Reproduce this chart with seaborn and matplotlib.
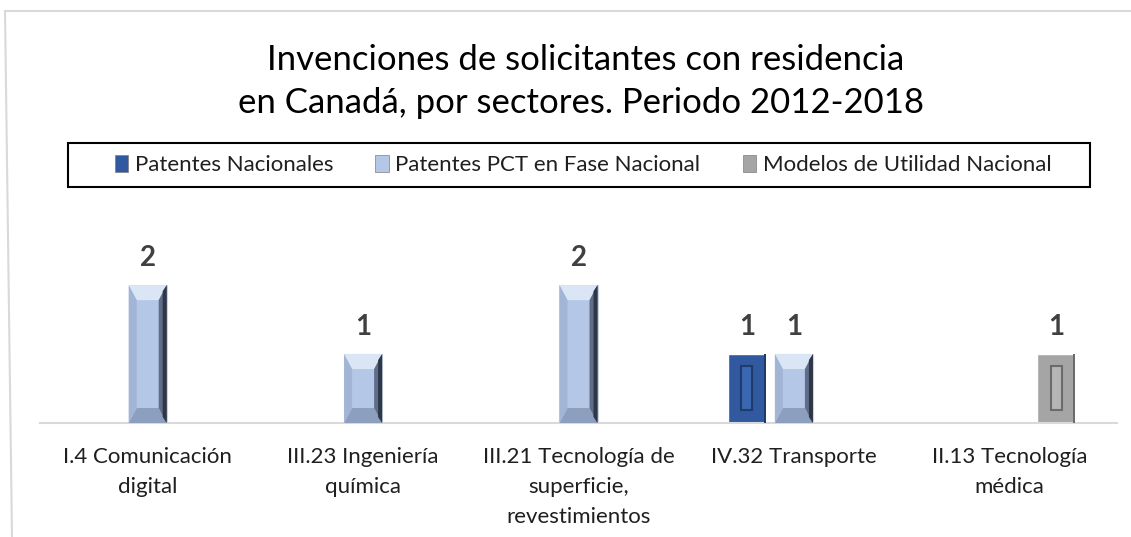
"""Inventions by Canadian-resident applicants, by sector (2012-2018)."""

import matplotlib
matplotlib.use('Agg')
import matplotlib.pyplot as plt
from matplotlib.patches import Patch, Polygon, Rectangle
from matplotlib.lines import Line2D
import pandas as pd
import seaborn as sns

# data
sectores = [
    "I.4 Comunicación\ndigital",
    "III.23 Ingeniería\nquímica",
    "III.21 Tecnología de\nsuperficie,\nrevestimientos",
    "IV.32 Transporte",
    "II.13 Tecnología\nmédica",
]
tipos = [
    "Patentes Nacionales",
    "Patentes PCT en Fase Nacional",
    "Modelos de Utilidad Nacional",
]
nacionales = [0, 0, 0, 1, 0]
pct = [2, 1, 2, 1, 0]
utilidad = [0, 0, 0, 0, 1]

colores = {
    "Patentes Nacionales": "#30599f",
    "Patentes PCT en Fase Nacional": "#b4c7e7",
    "Modelos de Utilidad Nacional": "#a5a5a5",
}

df = pd.DataFrame({
    "sector": sectores * 3,
    "tipo": [tipos[0]] * 5 + [tipos[1]] * 5 + [tipos[2]] * 5,
    "valor": nacionales + pct + utilidad,
})

sns.set_theme(style="white")
plt.rcParams['font.family'] = ['Lato', 'DejaVu Sans']

W, H = 1131, 537
fig = plt.figure(figsize=(W / 100, H / 100), dpi=100)
ax = fig.add_axes([40 / W, 114 / H, 1077 / W, 193 / H])

sns.barplot(
    data=df, x="sector", y="valor", hue="tipo",
    order=sectores, hue_order=tipos, palette=colores,
    width=0.654, gap=0.19, saturation=1, legend=False, ax=ax,
)
ax.set_ylim(0, 2.8)
ax.set_xlim(-0.5, len(sectores) - 0.5)
ax.set_xlabel("")
ax.set_ylabel("")
ax.set_yticks([])
for s in ["top", "left", "right"]:
    ax.spines[s].set_visible(False)
ax.spines["bottom"].set_color("#d9d9d9")
ax.spines["bottom"].set_linewidth(1.5)
ax.tick_params(axis="x", length=0, pad=17.5, labelsize=16, colors="#1f1f1f")
for lbl in ax.get_xticklabels():
    lbl.set_linespacing(1.62)


def poly(pts, color, z=3):
    data = ax.transData.inverted().transform(pts)
    ax.add_patch(Polygon(data, closed=True, facecolor=color, edgecolor="none", zorder=z))


# bevel / emboss decoration derived from each bar's drawn extent
for tipo, cont in zip(tipos, ax.containers):
    for bar in cont:
        if bar.get_height() <= 0:
            continue
        bb = bar.get_window_extent()
        x0, x1, y0, y1 = bb.x0, bb.x1, bb.y0, bb.y1
        if tipo == tipos[1]:
            s, t = 8, 15
            poly([(x0, y1), (x1, y1), (x1 - s, y1 - t), (x0 + s, y1 - t)], "#dae5f6")
            poly([(x0, y0), (x1, y0), (x1 - s, y0 + t), (x0 + s, y0 + t)], "#8d9fbf")
            poly([(x0, y0), (x0 + s, y0 + t), (x0 + s, y1 - t), (x0, y1)], "#a3b5d5")
            poly([(x1, y0), (x1 - s, y0 + t), (x1 - s, y1 - t), (x1, y1)], "#5f6d88")
            poly([(x1, y0), (x1 - 4, y0 + 6), (x1 - 4, y1 - 6), (x1, y1)], "#2f3746")
            bar.set_edgecolor("#c9d3e3")
            bar.set_linewidth(0.8)
        else:
            dark = "#1f3b6b" if tipo == tipos[0] else "#6b6b6b"
            inner = "#3a67b0" if tipo == tipos[0] else "#b5b5b5"
            cx = (x0 + x1) / 2
            w = 11
            data = ax.transData.inverted().transform([(cx - w / 2, y0 + 13), (cx + w / 2, y1 - 12)])
            ax.add_patch(Rectangle(
                data[0], data[1][0] - data[0][0], data[1][1] - data[0][1],
                facecolor=inner, edgecolor=dark, linewidth=1.5, zorder=3,
            ))
            poly([(x1, y0), (x1 - 2, y0), (x1 - 2, y1), (x1, y1)], dark)
        ax.annotate(
            f"{bar.get_height():.0f}",
            (bar.get_x() + bar.get_width() / 2, bar.get_height()),
            xytext=(0, 14), textcoords="offset points",
            ha="center", va="baseline", fontsize=20, fontweight="bold",
            color="#404040",
        )

# title
fig.text(586 / W, 1 - 60 / H, "Invenciones de solicitantes con residencia",
         ha="center", va="center", fontsize=25, color="black")
fig.text(581 / W, 1 - 103 / H, "en Canadá, por sectores. Periodo 2012-2018",
         ha="center", va="center", fontsize=25, color="black")

# legend with square frame
fig.patches.append(Rectangle(
    (68 / W, 1 - 187 / H), (1090 - 68) / W, 44 / H,
    transform=fig.transFigure, facecolor="none", edgecolor="black", linewidth=1.5,
))
handles = [Patch(facecolor=colores[t], edgecolor="#7f7f7f", linewidth=0.5) for t in tipos]
fig.legend(
    handles, tipos, loc="center", bbox_to_anchor=(583 / W, 1 - 165 / H),
    ncol=3, frameon=False, fontsize=16, handlelength=0.6, handleheight=0.8,
    handletextpad=0.3, columnspacing=1.9, labelcolor="#1f1f1f",
)

# outer chart frame
fig.add_artist(Line2D([5 / W, 1], [1 - 11 / H, 1 - 11 / H], transform=fig.transFigure,
                      color="#d9d9d9", linewidth=1.5))
fig.add_artist(Line2D([5 / W, 12 / W], [1 - 11 / H, 0], transform=fig.transFigure,
                      color="#d9d9d9", linewidth=1.5))

fig.savefig("out.png", dpi=100)
plt.close(fig)
